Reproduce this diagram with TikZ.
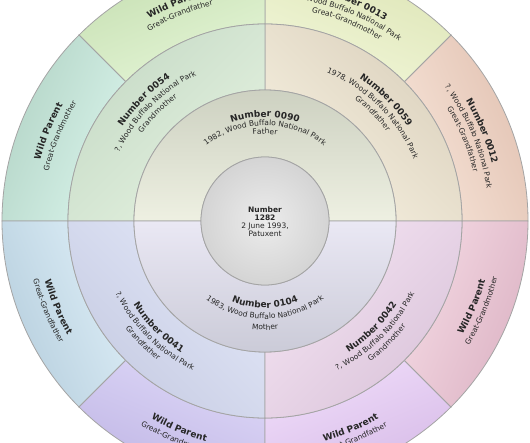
\documentclass[tikz,border=0pt]{standalone}
\usepackage{fontspec}
\setmainfont{DejaVu Sans}
\usepackage{tikz}
\usetikzlibrary{decorations.text}

\definecolor{edgegray}{HTML}{A4A4A4}
\definecolor{inktext}{HTML}{262626}
\definecolor{focalout}{HTML}{D4D4D4}
\definecolor{focalin}{HTML}{ECECEC}
\definecolor{fatherout}{HTML}{CDD1C1}
\definecolor{fatherin}{HTML}{EEF0E2}
\definecolor{motherout}{HTML}{CBCBD8}
\definecolor{motherin}{HTML}{EAE8F4}
\definecolor{gmaAout}{HTML}{C6DAC6}
\definecolor{gmaAin}{HTML}{E4F2E0}
\definecolor{gpaAout}{HTML}{DBD1BD}
\definecolor{gpaAin}{HTML}{F6F0E0}
\definecolor{gpaBout}{HTML}{C6CBE2}
\definecolor{gpaBin}{HTML}{E2E7F8}
\definecolor{gmaBout}{HTML}{DAC4DA}
\definecolor{gmaBin}{HTML}{F4E3F2}
\definecolor{ggAout}{HTML}{C6DFB2}
\definecolor{ggAin}{HTML}{E4F5D6}
\definecolor{ggBout}{HTML}{B3D4C6}
\definecolor{ggBin}{HTML}{D8F3EA}
\definecolor{ggCout}{HTML}{DDE5B6}
\definecolor{ggCin}{HTML}{F1F6D8}
\definecolor{ggDout}{HTML}{E2C2B2}
\definecolor{ggDin}{HTML}{F6E3D7}
\definecolor{ggEout}{HTML}{B6CEDD}
\definecolor{ggEin}{HTML}{DDEEF7}
\definecolor{ggFout}{HTML}{C0B6E5}
\definecolor{ggFin}{HTML}{DDD7F7}
\definecolor{ggGout}{HTML}{D6BAE7}
\definecolor{ggGin}{HTML}{F0DDFA}
\definecolor{ggHout}{HTML}{DCB3C4}
\definecolor{ggHin}{HTML}{F4D9E3}

\newcommand{\namefont}{\fontsize{9}{10}\selectfont\bfseries}
\newcommand{\infofont}{\fontsize{7.5}{9}\selectfont}

% ring slice: inner r, outer r, from, to, outer colour, inner colour
\newcommand{\fanseg}[6]{%
  \pgfmathsetmacro{\shadeang}{(#3+#4)/2-90}%
  \shadedraw[slice, top color=#5, bottom color=#6, shading angle=\shadeang]
    (#3:#2) arc[start angle=#3, end angle=#4, radius=#2]
    -- (#4:#1) arc[start angle=#4, end angle=#3, radius=#1] -- cycle;}

% text on the upper half (clockwise) and lower half (counterclockwise)
\newcommand{\uplabel}[3]{%
  \pgfmathsetmacro{\arcfrom}{#2+90}%
  \pgfmathsetmacro{\arcto}{#2-90}%
  \path[decorate, decoration={text along path, text align=center, text color=inktext, text={#3}}]
    (\arcfrom:#1) arc[start angle=\arcfrom, end angle=\arcto, radius=#1];}
\newcommand{\lowlabel}[3]{%
  \pgfmathsetmacro{\arcfrom}{#2-90}%
  \pgfmathsetmacro{\arcto}{#2+90}%
  \path[decorate, decoration={text along path, text align=center, text color=inktext, text={#3}}]
    (\arcfrom:#1) arc[start angle=\arcfrom, end angle=\arcto, radius=#1];}

\begin{document}
\begin{tikzpicture}[x=1pt,y=1pt]
    \tikzstyle{slice}=[draw=edgegray, line width=0.8pt]
    \tikzstyle{focal}=[circle, minimum size=128pt, inner sep=0pt, draw=edgegray, line width=0.8pt,
        inner color=focalin, outer color=focalout]
    \useasboundingbox (-265,-221) rectangle (265,221);
    \fill[white] (-265,-221) rectangle (265,221);
    \clip (-265,-221) rectangle (265,221);

    % great-grandparents
    \fanseg{197}{263}{0}{45}{ggDout}{ggDin}
    \fanseg{197}{263}{45}{90}{ggCout}{ggCin}
    \fanseg{197}{263}{90}{135}{ggAout}{ggAin}
    \fanseg{197}{263}{135}{180}{ggBout}{ggBin}
    \fanseg{197}{263}{180}{225}{ggEout}{ggEin}
    \fanseg{197}{263}{225}{270}{ggFout}{ggFin}
    \fanseg{197}{263}{270}{315}{ggGout}{ggGin}
    \fanseg{197}{263}{315}{360}{ggHout}{ggHin}
    % grandparents
    \fanseg{131}{197}{0}{90}{gpaAout}{gpaAin}
    \fanseg{131}{197}{90}{180}{gmaAout}{gmaAin}
    \fanseg{131}{197}{180}{270}{gpaBout}{gpaBin}
    \fanseg{131}{197}{270}{360}{gmaBout}{gmaBin}
    % parents
    \fanseg{64}{131}{0}{180}{fatherout}{fatherin}
    \fanseg{64}{131}{180}{360}{motherout}{motherin}

    \node[focal] (bird) at (0,0) {};
    \node[align=center, text=inktext, font=\fontsize{7.5}{8}\selectfont] (birdtext) at (0,-1)
        {\textbf{Number}\\\textbf{1282}\\2 June 1993,\\Patuxent};

    \uplabel{104}{90}{|\namefont|Number 0090}
    \uplabel{95.5}{90}{|\infofont|1982, Wood Buffalo National Park}
    \uplabel{87}{90}{|\infofont|Father}
    \lowlabel{87}{270}{|\namefont|Number 0104}
    \lowlabel{98}{270}{|\infofont|1983, Wood Buffalo National Park}
    \lowlabel{109}{270}{|\infofont|Mother}

    \uplabel{171}{135}{|\namefont|Number 0054}
    \uplabel{161}{135}{|\infofont|?, Wood Buffalo National Park}
    \uplabel{151}{135}{|\infofont|Grandmother}
    \uplabel{171}{45}{|\namefont|Number 0059}
    \uplabel{161}{45}{|\infofont|1978, Wood Buffalo National Park}
    \uplabel{151}{45}{|\infofont|Grandfather}
    \lowlabel{156}{225}{|\namefont|Number 0041}
    \lowlabel{166}{225}{|\infofont|?, Wood Buffalo National Park}
    \lowlabel{176}{225}{|\infofont|Grandfather}
    \lowlabel{156}{315}{|\namefont|Number 0042}
    \lowlabel{166}{315}{|\infofont|?, Wood Buffalo National Park}
    \lowlabel{176}{315}{|\infofont|Grandmother}

    \uplabel{234}{22.5}{|\namefont|Number 0012}
    \uplabel{224}{22.5}{|\infofont|?, Wood Buffalo National Park}
    \uplabel{214}{22.5}{|\infofont|Great-Grandfather}
    \uplabel{234}{67.5}{|\namefont|Number 0013}
    \uplabel{224}{67.5}{|\infofont|?, Wood Buffalo National Park}
    \uplabel{214}{67.5}{|\infofont|Great-Grandmother}
    \uplabel{233}{112.5}{|\namefont|Wild Parent}
    \uplabel{222}{112.5}{|\infofont|Great-Grandfather}
    \uplabel{233}{157.5}{|\namefont|Wild Parent}
    \uplabel{222}{157.5}{|\infofont|Great-Grandmother}
    \lowlabel{228}{202.5}{|\namefont|Wild Parent}
    \lowlabel{239}{202.5}{|\infofont|Great-Grandfather}
    \lowlabel{228}{247.5}{|\namefont|Wild Parent}
    \lowlabel{239}{247.5}{|\infofont|Great-Grandmother}
    \lowlabel{228}{292.5}{|\namefont|Wild Parent}
    \lowlabel{239}{292.5}{|\infofont|Great-Grandfather}
    \lowlabel{228}{337.5}{|\namefont|Wild Parent}
    \lowlabel{239}{337.5}{|\infofont|Great-Grandmother}
\end{tikzpicture}
\end{document}
